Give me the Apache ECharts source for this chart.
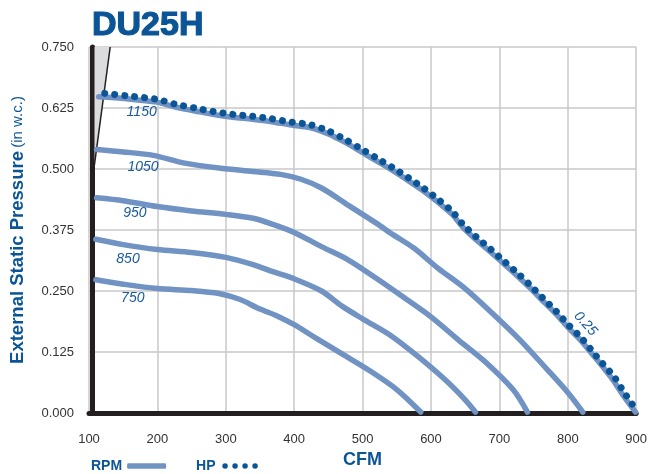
<!DOCTYPE html>
<html>
<head>
<meta charset="utf-8">
<script src="https://cdn.jsdelivr.net/npm/echarts@6/dist/echarts.min.js"></script>
<style>
  html, body { margin: 0; padding: 0; background: #fff; }
  #chart { width: 650px; height: 474px; }
</style>
</head>
<body>
<div id="chart"></div>
<script>
const xTicks = [100, 200, 300, 400, 500, 600, 700, 800, 900];
const yTicks = [0, 0.125, 0.25, 0.375, 0.5, 0.625, 0.75];

const rpm750 = [[110,0.273],[150,0.264],[200,0.255],[250,0.251],[290,0.245],[320,0.233],[350,0.213],[375,0.199],[400,0.181],[430,0.155],[470,0.121],[510,0.087],[550,0.048],[585,0.002]];
const rpm850 = [[110,0.356],[150,0.345],[200,0.335],[250,0.329],[300,0.319],[340,0.304],[370,0.289],[400,0.275],[440,0.250],[470,0.219],[500,0.193],[540,0.160],[580,0.117],[620,0.069],[650,0.027],[665,0.002]];
const rpm950 = [[111,0.441],[150,0.435],[200,0.423],[250,0.414],[300,0.407],[340,0.399],[370,0.386],[400,0.370],[440,0.341],[480,0.313],[520,0.276],[560,0.237],[600,0.197],[640,0.150],[680,0.104],[720,0.048],[741,0.002]];
const rpm1050 = [[111,0.540],[150,0.535],[194,0.528],[240,0.512],[290,0.502],[340,0.495],[380,0.489],[410,0.479],[440,0.461],[480,0.425],[520,0.389],[545,0.365],[575,0.338],[610,0.297],[650,0.255],[690,0.204],[730,0.150],[770,0.089],[800,0.042],[822,0.002]];
const rpm1150 = [[114,0.648],[155,0.644],[199,0.637],[226,0.627],[255,0.619],[281,0.612],[310,0.606],[339,0.602],[367,0.597],[396,0.590],[423,0.585],[450,0.572],[474,0.555],[497,0.536],[521,0.516],[545,0.496],[567,0.476],[590,0.454],[611,0.431],[631,0.407],[647,0.380],[666,0.355],[687,0.330],[707,0.305],[727,0.280],[745,0.256],[764,0.229],[782,0.204],[800,0.176],[819,0.149],[835,0.122],[851,0.095],[866,0.068],[880,0.038],[892,0.015],[899,0.002]];
const hp025 = [[123,0.655],[155,0.650],[199,0.643],[226,0.633],[255,0.625],[281,0.618],[310,0.612],[339,0.608],[367,0.603],[396,0.596],[423,0.591],[450,0.578],[474,0.561],[497,0.542],[521,0.522],[545,0.502],[567,0.482],[590,0.460],[611,0.437],[631,0.413],[647,0.386],[666,0.361],[687,0.336],[707,0.311],[727,0.286],[745,0.262],[764,0.235],[782,0.210],[800,0.182],[819,0.155],[835,0.128],[851,0.101],[868,0.074],[882,0.043],[890,0.027],[897,0.012],[900,0.003]];

const stallArea = [[108,0.75],[131,0.75],[108,0.509]];
const stallLine = [[108,0.509],[131,0.75]];

const curveLabels = [
  { name: '1150', value: [177, 0.617] },
  { name: '1050', value: [179, 0.504] },
  { name: '950', value: [167, 0.409] },
  { name: '850', value: [157, 0.3145] },
  { name: '750', value: [164, 0.236] },
  { name: '0.25', value: [826, 0.183], label: { rotate: -48 } }
];

const rpmCurves = [rpm750, rpm850, rpm950, rpm1050, rpm1150];

const DARK_BLUE = '#0b5597';
const LIGHT_BLUE = '#7093c4';
const LABEL_BLUE = '#175a9e';
const FONT = 'Liberation Sans';

const dot = (cx) => `M${cx - 2.75},2.75a2.75,2.75 0 1,0 5.5,0a2.75,2.75 0 1,0 -5.5,0Z`;
const dotsIcon = 'path://' + [2.75, 12.75, 22.75, 32.75].map(dot).join('');

const chart = echarts.init(document.getElementById('chart'));

const rpmSeries = rpmCurves.map((data) => ({
  name: 'RPM',
  type: 'line',
  data: data,
  smooth: 0.3,
  showSymbol: false,
  symbol: 'none',
  lineStyle: { color: LIGHT_BLUE, width: 5.5, cap: 'round' },
  itemStyle: { color: LIGHT_BLUE },
  z: 3,
  silent: true
}));

chart.setOption({
  animation: false,
  backgroundColor: '#fff',
  textStyle: { fontFamily: FONT },
  title: {
    text: 'DU25H',
    left: 87,
    top: 4,
    textStyle: {
      fontSize: 34, fontWeight: 'bold', color: DARK_BLUE, fontFamily: FONT,
      textBorderColor: DARK_BLUE, textBorderWidth: 1.2
    }
  },
  legend: {
    left: 91,
    top: 459,
    padding: 0,
    align: 'right',
    itemGap: 30,
    itemWidth: 39,
    itemHeight: 5.5,
    selectedMode: false,
    textStyle: { fontSize: 14, fontWeight: 'bold', color: DARK_BLUE, fontFamily: FONT },
    data: [
      { name: 'RPM', icon: 'roundRect', itemStyle: { color: LIGHT_BLUE } },
      { name: 'HP', icon: dotsIcon, itemStyle: { color: DARK_BLUE } }
    ]
  },
  grid: { left: 88, right: 11, top: 47, bottom: 55 },
  xAxis: {
    type: 'value',
    min: xTicks[0],
    max: xTicks[xTicks.length - 1],
    interval: 100,
    offset: 1,
    name: 'CFM',
    nameLocation: 'middle',
    nameGap: 37,
    nameTextStyle: { fontSize: 18, fontWeight: 'bold', color: DARK_BLUE, fontFamily: FONT },
    axisLine: { show: true, lineStyle: { color: '#231f20', width: 5 } },
    axisTick: { show: false },
    axisLabel: { fontSize: 13, color: '#333', margin: 19, fontFamily: FONT },
    splitLine: { show: true, lineStyle: { color: '#c8c8c8', width: 1.5 } }
  },
  yAxis: {
    type: 'value',
    min: yTicks[0],
    max: yTicks[yTicks.length - 1],
    interval: 0.125,
    offset: -3,
    name: '{b|External Static Pressure} {n|(in w.c.)}',
    nameLocation: 'middle',
    nameGap: 65,
    nameRotate: 90,
    nameTextStyle: {
      color: DARK_BLUE,
      rich: {
        b: { fontSize: 18.5, fontWeight: 'bold', color: DARK_BLUE, fontFamily: FONT },
        n: { fontSize: 15, color: DARK_BLUE, fontFamily: FONT }
      }
    },
    axisLine: { show: true, lineStyle: { color: '#231f20', width: 5 } },
    axisTick: { show: false },
    axisLabel: {
      fontSize: 13, color: '#333', margin: 18, fontFamily: FONT,
      formatter: (v) => v.toFixed(3)
    },
    splitLine: { show: true, lineStyle: { color: '#c8c8c8', width: 1.5 } }
  },
  series: [
    {
      type: 'custom',
      silent: true,
      z: 1,
      data: [0],
      renderItem: (params, api) => ({
        type: 'polygon',
        shape: { points: stallArea.map((p) => api.coord(p)) },
        style: { fill: '#dcdcde' }
      })
    },
    {
      type: 'line',
      data: stallLine,
      showSymbol: false,
      symbol: 'none',
      silent: true,
      z: 2,
      lineStyle: { color: '#231f20', width: 1.5 }
    },
    ...rpmSeries,
    {
      name: 'HP',
      type: 'line',
      data: hp025,
      smooth: 0.3,
      showSymbol: false,
      symbol: 'none',
      silent: true,
      z: 4,
      itemStyle: { color: DARK_BLUE },
      lineStyle: { color: DARK_BLUE, width: 7, cap: 'round', type: [0.01, 9.99] }
    },
    {
      type: 'scatter',
      data: curveLabels,
      symbolSize: 0,
      silent: true,
      z: 5,
      itemStyle: { color: LABEL_BLUE, opacity: 1 },
      label: {
        show: true,
        position: [0, 0],
        align: 'center',
        verticalAlign: 'middle',
        formatter: (p) => p.name,
        fontSize: 14,
        fontStyle: 'italic',
        color: LABEL_BLUE,
        opacity: 1,
        textBorderWidth: 0,
        fontFamily: FONT
      }
    }
  ]
});

window.addEventListener('resize', () => chart.resize());
</script>
</body>
</html>
